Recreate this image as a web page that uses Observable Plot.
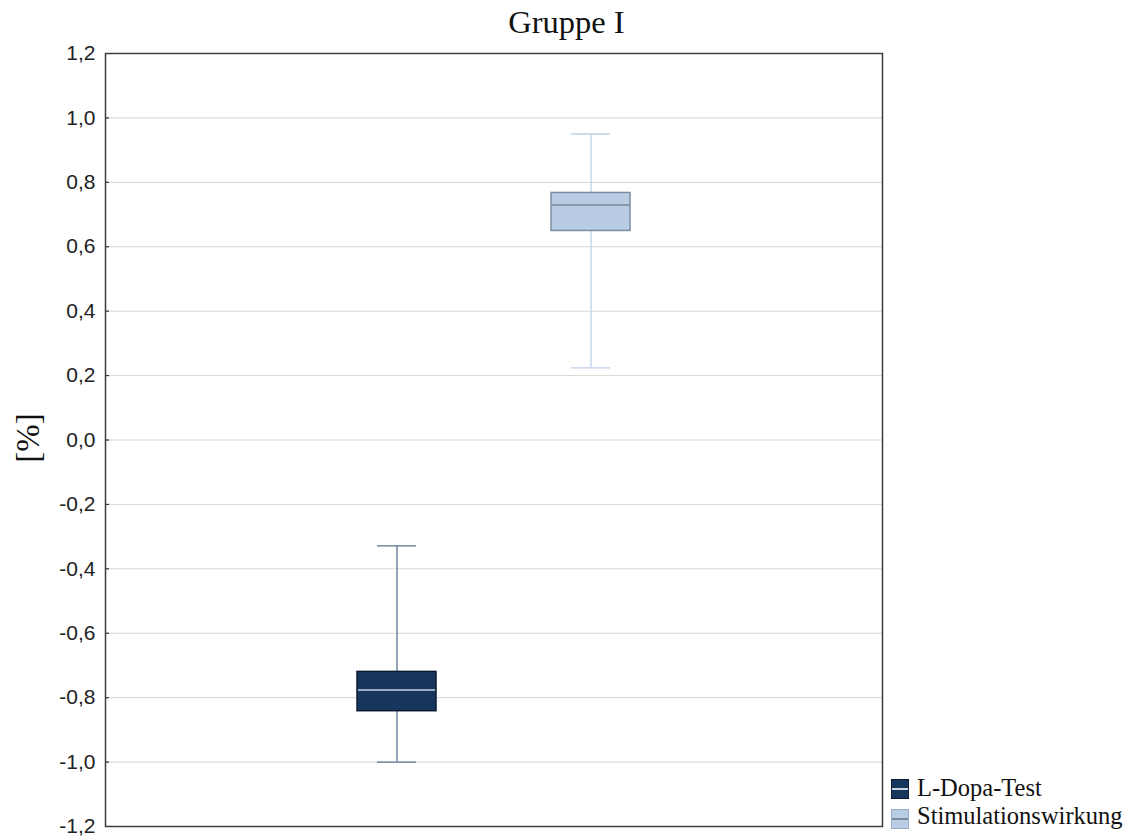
<!DOCTYPE html>
<html>
<head>
<meta charset="utf-8">
<script src="https://cdn.jsdelivr.net/npm/d3@7"></script>
<script src="https://cdn.jsdelivr.net/npm/@observablehq/plot@0.6"></script>
<style>
  html, body { margin: 0; padding: 0; background: #fff; }
  #wrap { position: relative; width: 1133px; height: 839px; overflow: hidden; }
  #wrap svg { position: absolute; left: 0; top: 0; }
  .title { position: absolute; left: 0; width: 1133px; top: 6px; text-align: center;
           font-family: "Liberation Serif", serif; font-size: 32.5px; line-height: 32px; color: #111; }
  .legend { position: absolute; left: 891px; width: 242px; font-family: "Liberation Serif", serif; font-size: 24.5px; line-height: 24.5px; color: #111; }
  .legend .sw { position: absolute; left: 0; width: 16px; height: 18px; box-sizing: content-box; }
  .legend .sw .mid { position: absolute; left: 0; right: 0; top: 8px; height: 1.5px; }
  .legend .lbl { position: absolute; left: 26px; white-space: nowrap; }
</style>
</head>
<body>
<div id="wrap"></div>
<script>
// ---- data ----
const title = "Gruppe I";
const yLabel = "[%]";
const categories = ["L-Dopa-Test", "Stimulationswirkung"];
const whiskerLow  = [-1.0, 0.224];
const q1          = [-0.842, 0.649];
const median      = [-0.776, 0.730];
const q3          = [-0.720, 0.767];
const whiskerHigh = [-0.329, 0.950];
const yTicks = [-1.2, -1.0, -0.8, -0.6, -0.4, -0.2, 0.0, 0.2, 0.4, 0.6, 0.8, 1.0, 1.2];

// ---- styles ----
const boxFill     = ["#17365d", "#b8cce4"];
const boxStroke   = ["#0c1b33", "#7d8ca3"];
const medianColor = ["#c9d2de", "#7f8898"];
const whiskerColor = ["#5b7191", "#bfd0e8"];

const data = categories.map((c, i) => ({
  cat: c, lo: whiskerLow[i], q1: q1[i], med: median[i], q3: q3[i], hi: whiskerHigh[i], i
}));

const fmt = d => d.toFixed(1).replace(".", ",");
const innerTicks = yTicks.filter(t => Math.abs(Math.abs(t) - 1.2) > 1e-9);

const chart = Plot.plot({
  width: 1133,
  height: 839,
  marginLeft: 105,
  marginRight: 251,
  marginTop: 53,
  marginBottom: 13,
  x: { type: "band", domain: categories, paddingInner: 0.592, paddingOuter: 1.296, axis: null },
  y: { domain: [-1.2, 1.2], axis: null },
  style: { background: "#fff" },
  marks: [
    Plot.gridY(innerTicks, { stroke: "#d6d6d6", strokeOpacity: 1, strokeWidth: 1 }),
    Plot.axisY(yTicks, {
      tickSize: 0, tickPadding: 10, tickFormat: fmt, label: null,
      fontSize: 21, fontFamily: "Liberation Sans, Arial, sans-serif", fill: "#222"
    }),
    Plot.axisY(innerTicks, { tickSize: 4, dx: 4, text: null, label: null, stroke: "#333", strokeWidth: 1.2 }),
    Plot.ruleX(data, { x: "cat", y1: "lo", y2: "q1", stroke: d => whiskerColor[d.i], strokeWidth: 1.3 }),
    Plot.ruleX(data, { x: "cat", y1: "q3", y2: "hi", stroke: d => whiskerColor[d.i], strokeWidth: 1.3 }),
    Plot.tickY(data, { x: "cat", y: "lo", stroke: d => whiskerColor[d.i], strokeWidth: 1.3, insetLeft: 20, insetRight: 20 }),
    Plot.tickY(data, { x: "cat", y: "hi", stroke: d => whiskerColor[d.i], strokeWidth: 1.3, insetLeft: 20, insetRight: 20 }),
    Plot.barY(data, { x: "cat", y1: "q1", y2: "q3", fill: d => boxFill[d.i], stroke: d => boxStroke[d.i], strokeWidth: 1.5 }),
    Plot.tickY(data, { x: "cat", y: "med", stroke: d => medianColor[d.i], strokeWidth: 1.5, insetLeft: 1, insetRight: 1 }),
    Plot.frame({ stroke: "#3d3d3d", strokeWidth: 1.5 }),
    Plot.text([yLabel], {
      frameAnchor: "left", dx: -77, dy: -2, rotate: -90, text: d => d, textAnchor: "middle",
      fontSize: 33, fontFamily: "Liberation Serif, serif", fill: "#111"
    })
  ]
});

const wrap = document.getElementById("wrap");
wrap.appendChild(chart);

const t = document.createElement("div");
t.className = "title";
t.textContent = title;
wrap.appendChild(t);

const legend = document.createElement("div");
legend.className = "legend";
legend.style.top = "0px";
wrap.appendChild(legend);
const rowTops = [779, 809];
const textTops = [776, 804];
categories.forEach((c, i) => {
  const sw = document.createElement("div");
  sw.className = "sw";
  sw.style.top = rowTops[i] + "px";
  sw.style.background = boxFill[i];
  sw.style.border = "1px solid " + (i === 0 ? "#0c1b33" : "#9aabc2");
  const mid = document.createElement("div");
  mid.className = "mid";
  mid.style.background = medianColor[i];
  sw.appendChild(mid);
  legend.appendChild(sw);
  const lbl = document.createElement("div");
  lbl.className = "lbl";
  lbl.style.top = textTops[i] + "px";
  lbl.textContent = c;
  legend.appendChild(lbl);
});
</script>
</body>
</html>
